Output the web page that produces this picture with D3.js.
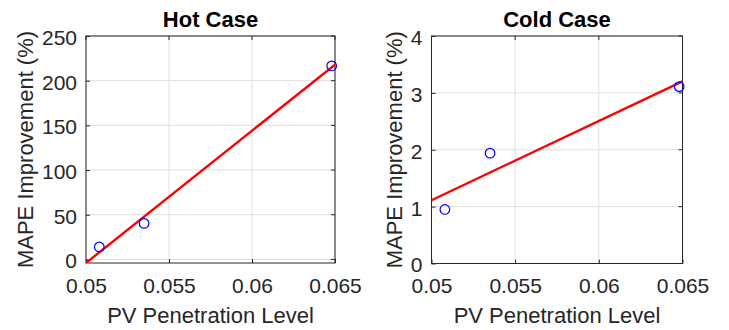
<!DOCTYPE html>
<html><head><meta charset="utf-8">
<script src="https://cdn.jsdelivr.net/npm/d3@7"></script>
<style>body{margin:0;background:#fff}svg{display:block}</style>
</head><body>
<svg id="c" width="729" height="330"></svg>
<script>
const penetration = [0.0508, 0.0535, 0.0648];
const hotImprovement = [14, 40.3, 216.5];
const coldImprovement = [0.95, 1.94, 3.11];
const xTicks = [0.05, 0.055, 0.06, 0.065];
const hotTicks = [0, 50, 100, 150, 200, 250];
const coldTicks = [0, 1, 2, 3, 4];
const titles = ["Hot Case", "Cold Case"];
const xLabel = "PV Penetration Level";
const yLabel = "MAPE Improvement (%)";

const svg = d3.select("#c");
const font = "'Liberation Sans', Arial, Helvetica, sans-serif";
const axCol = "#262626";
const tickFs = 21, labFs = 22;

function fit(xs, ys) {
  const mx = d3.mean(xs), my = d3.mean(ys);
  let sxy = 0, sxx = 0;
  xs.forEach((x, i) => { sxy += (x - mx) * (ys[i] - my); sxx += (x - mx) * (x - mx); });
  const b = sxy / sxx;
  return x => my + b * (x - mx);
}

function panel(cfg) {
  const {left, right, top, bottom, ydom, yticks, ys, title, ylabX} = cfg;
  const g = svg.append("g");
  const x = d3.scaleLinear().domain([0.05, 0.065]).range([left, right]);
  const y = d3.scaleLinear().domain(ydom).range([bottom, top]);
  g.selectAll(".gx").data(xTicks).join("line")
    .attr("x1", d => x(d)).attr("x2", d => x(d)).attr("y1", top).attr("y2", bottom)
    .attr("stroke", "#dfdfdf").attr("stroke-width", 1);
  g.selectAll(".gy").data(yticks).join("line")
    .attr("y1", d => y(d)).attr("y2", d => y(d)).attr("x1", left).attr("x2", right)
    .attr("stroke", "#dfdfdf").attr("stroke-width", 1);
  const xa = g.append("g").attr("transform", `translate(0,${bottom})`)
    .call(d3.axisBottom(x).tickValues(xTicks).tickFormat(d3.format("")).tickSizeInner(-4).tickSizeOuter(0).tickPadding(15));
  const ya = g.append("g").attr("transform", `translate(${left},0)`)
    .call(d3.axisLeft(y).tickValues(yticks).tickFormat(d3.format("")).tickSizeInner(-4).tickSizeOuter(0).tickPadding(9));
  [xa, ya].forEach(a => {
    a.select(".domain").remove();
    a.selectAll("line").attr("stroke", axCol);
    a.selectAll("text").attr("font-family", font).attr("font-size", tickFs).attr("fill", axCol);
  });
  ya.selectAll("text").attr("dy", "0.4em");
  g.selectAll(".tt").data(xTicks).join("line")
    .attr("x1", d => x(d)).attr("x2", d => x(d)).attr("y1", top).attr("y2", top + 4).attr("stroke", axCol);
  g.selectAll(".rt").data(yticks).join("line")
    .attr("y1", d => y(d)).attr("y2", d => y(d)).attr("x1", right).attr("x2", right - 4).attr("stroke", axCol);
  g.append("rect").attr("x", left).attr("y", top).attr("width", right - left).attr("height", bottom - top)
    .attr("fill", "none").attr("stroke", axCol).attr("stroke-width", 1);
  const f = fit(penetration, ys);
  const clipId = "clip" + Math.round(left);
  svg.append("clipPath").attr("id", clipId).append("rect")
    .attr("x", left).attr("y", top).attr("width", right - left).attr("height", bottom - top);
  g.append("path").attr("clip-path", `url(#${clipId})`)
    .attr("d", d3.line().x(d => x(d)).y(d => y(f(d)))([0.05, 0.065]))
    .attr("stroke", "#ff0000").attr("stroke-width", 2.4).attr("fill", "none");
  g.selectAll(".pt").data(penetration).join("circle")
    .attr("cx", d => x(d)).attr("cy", (d, i) => y(ys[i])).attr("r", 4.8)
    .attr("fill", "none").attr("stroke", "#0000ff").attr("stroke-width", 1.2);
  g.append("text").attr("x", (left + right) / 2).attr("y", 27).attr("text-anchor", "middle")
    .attr("font-family", font).attr("font-weight", "bold").attr("font-size", labFs).attr("fill", "#000").text(title);
  g.append("text").attr("x", (left + right) / 2).attr("y", 323).attr("text-anchor", "middle")
    .attr("font-family", font).attr("font-size", labFs).attr("fill", axCol).text(xLabel);
  g.append("text").attr("transform", `translate(${ylabX},${(top + bottom) / 2}) rotate(-90)`)
    .attr("text-anchor", "middle").attr("font-family", font).attr("font-size", labFs).attr("fill", axCol).text(yLabel);
}

panel({left: 86, right: 335, top: 36, bottom: 263, ydom: [-4, 250], yticks: hotTicks, ys: hotImprovement, title: titles[0], ylabX: 33});
panel({left: 431.5, right: 682.5, top: 36, bottom: 263.5, ydom: [0, 4], yticks: coldTicks, ys: coldImprovement, title: titles[1], ylabX: 402});
</script>
</body></html>
